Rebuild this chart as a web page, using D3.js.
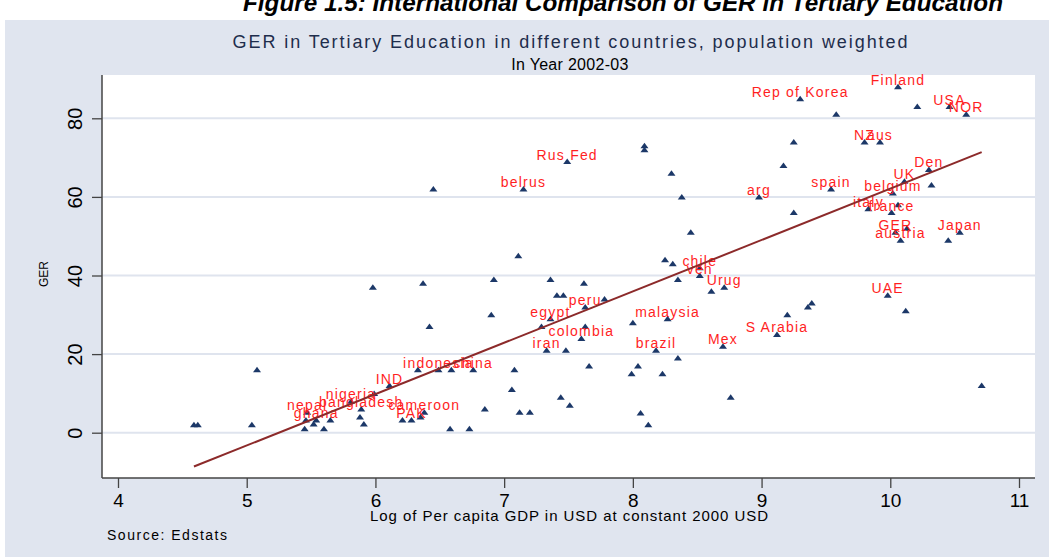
<!DOCTYPE html>
<meta charset="utf-8">
<style>
body { margin: 0; background: #fff; }
svg { display: block; font-family: 'Liberation Sans', Arial, sans-serif; }
.grid line { stroke: #dfe4ee; stroke-width: 2px; }
.axis line { stroke: #444; stroke-width: 1.3px; }
.axis path { display: none; }
.axis text { fill: #000; font-family: 'Liberation Sans', Arial, sans-serif; }
.lbl { fill: #ff1f1f; font-size: 14px; letter-spacing: 1.2px; }
</style>
<svg id="chart" width="1049" height="557"></svg>
<script src="https://d3js.org/d3.v7.min.js"></script>
<script>
// labelled countries
const labelNames = ["Finland", "Rep of Korea", "USA", "NOR", "NZ", "aus", "Den", "UK", "spain", "belgium",
  "arg", "italy", "france", "GER", "austria", "Japan", "UAE", "S Arabia", "Mex", "Rus Fed",
  "belrus", "chile", "ven", "Urug", "peru", "egypt", "malaysia", "colombia", "iran", "brazil",
  "indonesia", "china", "IND", "nigeria", "bangladesh", "nepal", "ghana", "PAK", "cameroon"];
const labelGdp = [10.06, 9.30, 10.46, 10.59, 9.80, 9.92, 10.30, 10.11, 9.54, 10.02,
  8.98, 9.83, 10.01, 10.04, 10.08, 10.54, 9.98, 9.12, 8.70, 7.49,
  7.15, 8.52, 8.52, 8.71, 7.63, 7.36, 8.27, 7.60, 7.33, 8.18,
  6.49, 6.76, 6.11, 5.81, 5.89, 5.47, 5.54, 6.28, 6.38];
const labelGer = [88, 85, 83, 81, 74, 74, 67, 64, 62, 61,
  60, 57, 56, 51, 49, 51, 35, 25, 22, 69,
  62, 42, 40, 37, 32, 29, 29, 24, 21, 21,
  16, 16, 12, 8, 6, 5.2, 3.2, 3.2, 5.2];

// countries without labels
const otherGdp = [4.59, 4.62, 5.04, 5.08, 5.45, 5.46, 5.52, 5.60, 5.65, 5.88,
  5.91, 5.99, 6.21, 6.35, 6.33, 6.59, 7.08, 6.58, 6.73, 6.85,
  7.06, 7.12, 7.20, 7.44, 7.51, 8.06, 8.12, 8.76, 7.66, 8.04,
  7.99, 8.23, 7.48, 8.35, 7.29, 7.63, 8.00, 9.20, 7.41, 7.46,
  7.78, 7.62, 7.36, 6.92, 8.35, 8.25, 8.31, 8.61, 7.11, 8.45,
  9.25, 8.38, 8.30, 9.17, 9.25, 8.09, 8.09, 6.45, 5.98, 6.37,
  6.42, 6.90, 9.58, 10.21, 10.32, 10.06, 10.13, 10.45, 9.39, 9.36,
  10.12, 10.71];
const otherGer = [2, 2, 2, 16, 1, 3.2, 2.2, 1, 3.2, 4,
  2.2, 10, 3.2, 4, 16, 16, 16, 1, 1, 6,
  11, 5.2, 5.2, 9, 7, 5, 2, 9, 17, 17,
  15, 15, 21, 19, 27, 27, 28, 30, 35, 35,
  34, 38, 39, 39, 39, 44, 43, 36, 45, 51,
  56, 60, 66, 68, 74, 73, 72, 62, 37, 38,
  27, 30, 81, 83, 63, 58, 52, 49, 33, 32,
  31, 12];

// linear fit GER = a + b * logGDP
const fitIntercept = -68.6;
const fitSlope = 13.07;

const xTicks = [4, 5, 6, 7, 8, 9, 10, 11];
const yTicks = [0, 20, 40, 60, 80];

const svg = d3.select("#chart");
const plot = { left: 102, right: 1035, top: 75, bottom: 478 };

const x = d3.scaleLinear().domain([4, 11]).range([118, 1019]);
const y = d3.scaleLinear().domain([0, 80]).range([432.7, 118.3]);

// backgrounds
svg.append("rect").attr("x", 5).attr("y", 20).attr("width", 1044).attr("height", 537).attr("fill", "#e0e5ef");
svg.append("rect").attr("x", plot.left).attr("y", plot.top)
  .attr("width", plot.right - plot.left).attr("height", plot.bottom - plot.top).attr("fill", "#fff");

// titles
svg.append("text").attr("x", 623).attr("y", 11).attr("text-anchor", "middle")
  .attr("font-size", 23.5).attr("font-weight", "bold").attr("font-style", "italic")
  .attr("textLength", 760).attr("lengthAdjust", "spacingAndGlyphs")
  .text("Figure 1.5: International Comparison of GER in Tertiary Education");
svg.append("text").attr("x", 570).attr("y", 48).attr("text-anchor", "middle")
  .attr("font-size", 18).attr("fill", "#1e2d4c")
  .attr("textLength", 675).attr("lengthAdjust", "spacing")
  .text("GER in Tertiary Education in different countries, population weighted");
svg.append("text").attr("x", 570).attr("y", 70).attr("text-anchor", "middle")
  .attr("font-size", 16).attr("letter-spacing", 0.3)
  .text("In Year 2002-03");

// grid
svg.append("g").attr("class", "grid").selectAll("line").data(yTicks).join("line")
  .attr("x1", plot.left).attr("x2", plot.right)
  .attr("y1", d => y(d)).attr("y2", d => y(d));

// axes
const gx = svg.append("g").attr("class", "axis")
  .attr("transform", `translate(0,${plot.bottom})`)
  .call(d3.axisBottom(x).tickValues(xTicks).tickFormat(d3.format("d")).tickSize(10).tickPadding(6));
gx.selectAll("text").attr("font-size", 19);

const gy = svg.append("g").attr("class", "axis")
  .attr("transform", `translate(${plot.left},0)`)
  .call(d3.axisLeft(y).tickValues(yTicks).tickSize(10));
gy.selectAll("text")
  .attr("font-size", 20).attr("text-anchor", "middle")
  .attr("x", 0).attr("dy", "0.35em")
  .attr("transform", "translate(-27,0) rotate(-90)");

svg.append("line").attr("stroke", "#444").attr("stroke-width", 1.5)
  .attr("x1", plot.left).attr("x2", plot.left).attr("y1", plot.top).attr("y2", plot.bottom);
svg.append("line").attr("stroke", "#444").attr("stroke-width", 1.5)
  .attr("x1", plot.left).attr("x2", plot.right).attr("y1", plot.bottom).attr("y2", plot.bottom);

svg.append("text").attr("transform", "translate(48,274) rotate(-90)").attr("text-anchor", "middle")
  .attr("font-size", 12).text("GER");
svg.append("text").attr("x", 569).attr("y", 521).attr("text-anchor", "middle")
  .attr("font-size", 15).attr("textLength", 398).attr("lengthAdjust", "spacing")
  .text("Log of Per capita GDP in USD at constant 2000 USD");
svg.append("text").attr("x", 107).attr("y", 540)
  .attr("font-size", 14).attr("textLength", 120).attr("lengthAdjust", "spacing")
  .text("Source: Edstats");

// markers
const points = labelGdp.map((g, i) => ({ g, e: labelGer[i], name: labelNames[i] }))
  .concat(otherGdp.map((g, i) => ({ g, e: otherGer[i], name: "" })));

const tri = "M-4,2.5L4,2.5L0,-3Z";
svg.append("g").selectAll("path").data(points).join("path")
  .attr("d", tri).attr("fill", "#1c3868")
  .attr("transform", d => `translate(${x(d.g)},${y(d.e)})`);

svg.append("g").selectAll("text").data(points.filter(d => d.name)).join("text")
  .attr("class", "lbl").attr("text-anchor", "middle")
  .attr("x", d => x(d.g)).attr("y", d => y(d.e) - 2)
  .text(d => d.name);

// fitted line
const xr = d3.extent(points, d => d.g);
svg.append("line").attr("stroke", "#8c2a2a").attr("stroke-width", 2)
  .attr("x1", x(xr[0])).attr("y1", y(fitIntercept + fitSlope * xr[0]))
  .attr("x2", x(xr[1])).attr("y2", y(fitIntercept + fitSlope * xr[1]));
</script>
